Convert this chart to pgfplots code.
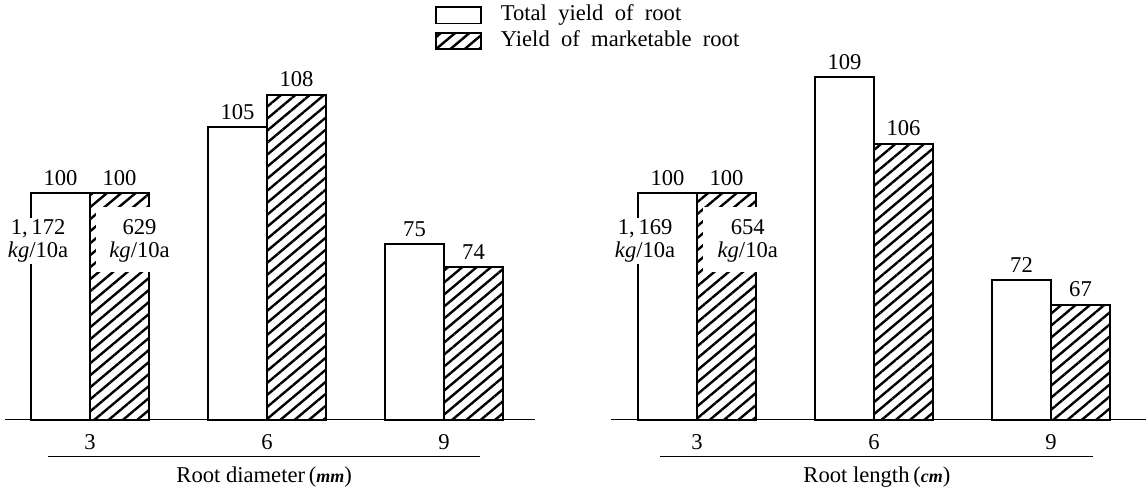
\documentclass[border=0pt]{standalone}
\usepackage{fontspec}
\setmainfont{Liberation Serif}
\usepackage{pgfplots}
\usepackage{pgfplotstable}
\pgfplotsset{compat=1.18}
\usetikzlibrary{patterns.meta}

% x = root diameter / length class, h = drawn bar height (100 = reference bar), v = printed index value
\pgfplotstableread{
x h v
3 100 100
6 129.1 105
9 77.5 75
}\diamTotal
\pgfplotstableread{
x h v
3 100 100
6 143.2 108
9 67.4 74
}\diamMarket
\pgfplotstableread{
x h v
3 100 100
6 151.1 109
9 61.7 72
}\lenTotal
\pgfplotstableread{
x h v
3 100 100
6 121.6 106
9 50.7 67
}\lenMarket

\newcommand{\lbl}{\fontsize{11.3}{11.5}\selectfont}

\begin{document}
\lbl
\begin{tikzpicture}[x=1pt,y=1pt]
\useasboundingbox (-2.5,-33.5) rectangle (570.5,210);
\pgfplotsset{
  myaxis/.style={
    scale only axis, height=175pt, ymin=0, ymax=154.2,
    axis y line=none, axis x line*=bottom,
    x axis line style={-, line width=0.5pt},
    xtick={3,6,9}, xticklabels={3,6,9}, major tick length=0pt,
    /pgf/number format/assume math mode=true,
    xticklabel style={yshift=-3.5pt, font=\lbl},
    ybar=0pt, bar width=29.5pt, clip=false,
    nodes near coords, point meta=explicit symbolic,
    nodes near coords style={anchor=south, font=\lbl, inner sep=1pt, yshift=2.5pt, text=black},
    legend image code/.code={\draw[##1,/tikz/.cd,yshift=0pt] (0pt,-4.1pt) rectangle (22.5pt,4.1pt); \path (30pt,0pt);},
  },
  whitebar/.style={draw=black, fill=white, line width=0.6pt},
  hatchbar/.style={draw=black, line width=0.8pt, pattern={Lines[angle=40,distance=4.6pt,line width=1.2pt]}},
}

% ---------------- left panel ----------------
\begin{axis}[myaxis, at={(0pt,0pt)}, anchor=south west, width=265pt,
  xmin=1.559, xmax=10.542,
  xlabel={\rule{216pt}{0.6pt}\\[1.5pt]Root diameter\,(\textbf{\textit{\small mm}})},
  xlabel style={at={(axis description cs:0.489,0)}, anchor=north, yshift=-17.7pt, align=center, font=\lbl, inner sep=0pt},
  legend style={at={(0.811,1.188)}, anchor=north west, draw=none, fill=none, inner sep=0pt, row sep=2.5pt, font=\lbl, cells={anchor=west},
    nodes={inner ysep=0pt, text height=8pt, text depth=2.5pt}},
]
\addplot[whitebar] table[x=x,y=h,meta=v]{\diamTotal};
\addplot[hatchbar] table[x=x,y=h,meta=v]{\diamMarket};
\addlegendentry{Total\ \ yield\ \ of\ \ root}
\addlegendentry{Yield\ \ of\ \ marketable\ \ root}
\fill[white] (axis cs:3.10,65.2) rectangle (axis cs:4.03,93.8);
\node[fill=white, inner sep=1pt, align=center, font=\lbl] at (axis cs:2.12,78.9) {1,\,172\\\textit{kg}/10a};
\node[inner sep=1pt, align=center, font=\lbl] at (axis cs:3.84,78.9) {629\\\textit{kg}/10a};
\end{axis}

% ---------------- right panel ----------------
\begin{axis}[myaxis, at={(303pt,0pt)}, anchor=south west, width=267.5pt,
  xmin=1.542, xmax=10.61,
  xlabel={\rule{216.5pt}{0.6pt}\\[1.5pt]Root length\,(\textbf{\textit{\small cm}})},
  xlabel style={at={(axis description cs:0.497,0)}, anchor=north, yshift=-17.7pt, align=center, font=\lbl, inner sep=0pt},
]
\addplot[whitebar] table[x=x,y=h,meta=v]{\lenTotal};
\addplot[hatchbar] table[x=x,y=h,meta=v]{\lenMarket};
\fill[white] (axis cs:3.10,65.2) rectangle (axis cs:4.03,93.8);
\node[fill=white, inner sep=1pt, align=center, font=\lbl] at (axis cs:2.12,78.9) {1,\,169\\\textit{kg}/10a};
\node[inner sep=1pt, align=center, font=\lbl] at (axis cs:3.86,78.9) {654\\\textit{kg}/10a};
\end{axis}
\end{tikzpicture}
\end{document}
